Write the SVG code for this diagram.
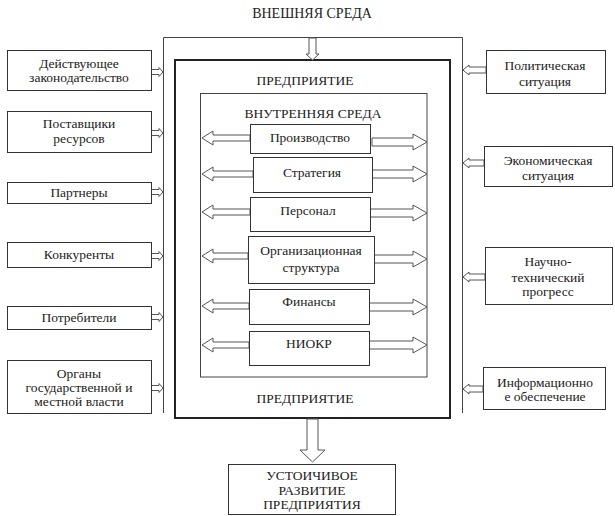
<svg xmlns="http://www.w3.org/2000/svg" width="615" height="516" viewBox="0 0 615 516">
<style>
text{font-family:"Liberation Serif","DejaVu Serif",serif;font-size:13.5px;fill:#222;text-anchor:middle}
.box{fill:#fff;stroke:#333;stroke-width:1}
.ar{fill:#fff;stroke:#555;stroke-width:1;stroke-linejoin:miter}
.frame{fill:none;stroke:#444;stroke-width:1}
</style>
<rect width="615" height="516" fill="#fff"/>
<g id="external-frame">
<path class="frame" d="M163.5,413 V37.5 H462.5 V413"/>
<text x="312" y="18" style="font-size:14px">ВНЕШНЯЯ СРЕДА</text>
</g>
<g id="enterprise">
<rect x="175" y="60" width="275" height="358" fill="none" stroke="#222" stroke-width="2"/>
<text x="305" y="85">ПРЕДПРИЯТИЕ</text>
<text x="305" y="403">ПРЕДПРИЯТИЕ</text>
</g>
<g id="internal-env">
<rect x="200.5" y="93.5" width="226.5" height="283.5" class="frame"/>
<text x="313" y="118">ВНУТРЕННЯЯ СРЕДА</text>
</g>
<g id="connectors">
<polygon class="ar" points="309,38 316,38 316,54 319,54 312.5,60 306,54 309,54"/>
<polygon class="ar" points="307,419 318,419 318,450 325,450 312.5,462 300,450 307,450"/>
<polygon class="ar" points="250,135 213,135 213,131 202,138 213,145 213,141 250,141"/>
<polygon class="ar" points="253,171 213,171 213,167 202,174 213,181 213,177 253,177"/>
<polygon class="ar" points="250,209 213,209 213,205 202,212 213,219 213,215 250,215"/>
<polygon class="ar" points="248,253 213,253 213,249 202,256 213,263 213,259 248,259"/>
<polygon class="ar" points="249,303 213,303 213,299 202,306 213,313 213,309 249,309"/>
<polygon class="ar" points="249,342 213,342 213,338 202,345 213,352 213,348 249,348"/>
<polygon class="ar" points="372,138 413,138 413,134 427,142 413,150 413,146 372,146"/>
<polygon class="ar" points="372,170 413,170 413,166 427,174 413,182 413,178 372,178"/>
<polygon class="ar" points="370,209 413,209 413,205 427,213 413,221 413,217 370,217"/>
<polygon class="ar" points="374,255 413,255 413,251 427,259 413,267 413,263 374,263"/>
<polygon class="ar" points="369,303 413,303 413,299 427,307 413,315 413,311 369,311"/>
<polygon class="ar" points="369,341 413,341 413,337 427,345 413,353 413,349 369,349"/>
<polygon class="ar" points="151,69.5 159,69.5 159,67.5 163,72 159,76.5 159,74.5 151,74.5"/>
<polygon class="ar" points="151,130.5 159,130.5 159,128.5 163,133 159,137.5 159,135.5 151,135.5"/>
<polygon class="ar" points="151,189.5 159,189.5 159,187.5 163,192 159,196.5 159,194.5 151,194.5"/>
<polygon class="ar" points="151,253.5 159,253.5 159,251.5 163,256 159,260.5 159,258.5 151,258.5"/>
<polygon class="ar" points="151,314.5 159,314.5 159,312.5 163,317 159,321.5 159,319.5 151,319.5"/>
<polygon class="ar" points="151,385.5 159,385.5 159,383.5 163,388 159,392.5 159,390.5 151,390.5"/>
<polygon class="ar" points="486,67 469,67 469,65 463,70 469,75 469,73 486,73"/>
<polygon class="ar" points="484,160 469,160 469,158 463,163 469,168 469,166 484,166"/>
<polygon class="ar" points="485,274 469,274 469,272 463,277 469,282 469,280 485,280"/>
<polygon class="ar" points="483,386 469,386 469,384 463,389 469,394 469,392 483,392"/>
</g>
<g id="n-proizvodstvo"><rect class="box" x="250.5" y="124.5" width="120" height="29"/><text x="310" y="142">Производство</text></g>
<g id="n-strategiya"><rect class="box" x="253.5" y="157.5" width="119" height="35"/><text x="312" y="177">Стратегия</text></g>
<g id="n-personal"><rect class="box" x="250.5" y="197.5" width="120" height="34"/><text x="308" y="215">Персонал</text></g>
<g id="n-org"><rect class="box" x="248.5" y="236.5" width="126" height="47"/><text x="311" y="255">Организационная</text><text x="311" y="272">структура</text></g>
<g id="n-finansy"><rect class="box" x="249.5" y="289.5" width="120" height="35"/><text x="309" y="306">Финансы</text></g>
<g id="n-niokr"><rect class="box" x="249.5" y="331.5" width="120" height="34"/><text x="309" y="348">НИОКР</text></g>
<g id="n-zakon"><rect class="box" x="7.5" y="50.5" width="144" height="40"/><text x="79" y="68">Действующее</text><text x="79" y="82">законодательство</text></g>
<g id="n-postavshiki"><rect class="box" x="7.5" y="111.5" width="144" height="41"/><text x="79" y="128">Поставщики</text><text x="79" y="143">ресурсов</text></g>
<g id="n-partnery"><rect class="box" x="7.5" y="182.5" width="144" height="21"/><text x="79" y="197">Партнеры</text></g>
<g id="n-konkurenty"><rect class="box" x="7.5" y="242.5" width="144" height="25"/><text x="79" y="259">Конкуренты</text></g>
<g id="n-potrebiteli"><rect class="box" x="7.5" y="306.5" width="144" height="23"/><text x="79" y="322">Потребители</text></g>
<g id="n-organy"><rect class="box" x="7.5" y="360.5" width="144" height="53"/><text x="79" y="378">Органы</text><text x="79" y="392">государственной и</text><text x="79" y="406">местной власти</text></g>
<g id="n-polit"><rect class="box" x="486.5" y="50.5" width="119" height="43"/><text x="545" y="70">Политическая</text><text x="545" y="86">ситуация</text></g>
<g id="n-ekon"><rect class="box" x="484.5" y="146.5" width="128" height="40"/><text x="548" y="165">Экономическая</text><text x="548" y="180">ситуация</text></g>
<g id="n-nauch"><rect class="box" x="485.5" y="247.5" width="127" height="57"/><text x="548" y="266">Научно-</text><text x="548" y="282">технический</text><text x="548" y="296">прогресс</text></g>
<g id="n-inform"><rect class="box" x="483.5" y="367.5" width="122" height="42"/><text x="545" y="387">Информационно</text><text x="545" y="401">е обеспечение</text></g>
<g id="n-result"><rect class="box" x="228.5" y="464.5" width="167" height="50"/><text x="312" y="480">УСТОИЧИВОЕ</text><text x="312" y="495">РАЗВИТИЕ</text><text x="312" y="509">ПРЕДПРИЯТИЯ</text></g>
</svg>
